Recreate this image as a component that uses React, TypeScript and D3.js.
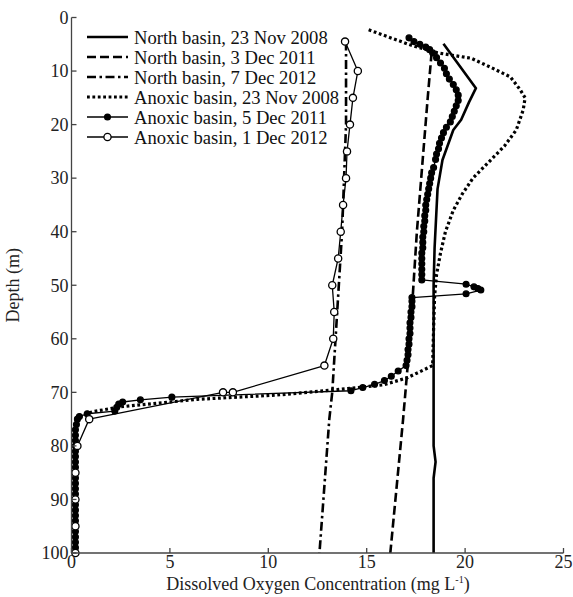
import * as d3 from "d3";

// [depth (m), dissolved oxygen (mg/L)]
const northNov2008: [number, number][] = [
  [4.9, 18.9], [13.2, 20.55], [15.8, 20.2], [19.1, 19.8], [21, 19.4], [26.6, 18.85],
  [32, 18.6], [43, 18.45], [50, 18.4], [80, 18.4], [83, 18.5], [86, 18.4], [100, 18.4],
];
const northDec2011: [number, number][] = [
  [6.5, 18.3], [15, 18.1], [40, 17.55], [60, 17.2], [75, 16.85], [100, 16.2],
];
const northDec2012: [number, number][] = [
  [4.5, 13.95], [20, 13.95], [40, 13.75], [55, 13.5], [70, 13.25], [75, 13.1], [100, 12.6],
];
const anoxicNov2008: [number, number][] = [
  [2.3, 15.1], [5.1, 17.2], [6.6, 18.6], [7.6, 20.3], [9.3, 21.3], [11.1, 22.3], [13.5, 22.8],
  [15, 23.05], [17.3, 22.95], [21, 22.6], [24, 22.0], [27, 21.2], [30, 20.4], [33, 19.85],
  [36, 19.4], [40, 19.0], [44, 18.75], [48, 18.55], [52, 18.45], [58, 18.4], [65, 18.35],
  [67.3, 17.05], [68.6, 15.85], [69.5, 13.5], [70.5, 10.45], [71.3, 6.4], [72.7, 2.5],
  [73.6, 1.1], [74.2, 0.6], [75, 0.3], [80, 0.2], [100, 0.2],
];
const anoxicDec2011: [number, number][] = [
  [3.8, 17.15], [4.5, 17.4], [5, 17.7], [5.5, 18.0], [6, 18.2], [6.6, 18.35], [7.5, 18.55],
  [8.5, 18.75], [9.5, 18.95], [10.5, 19.05], [11.5, 19.2], [12.5, 19.4], [13.5, 19.55],
  [14.5, 19.65], [15.5, 19.65], [16.5, 19.55], [17.5, 19.45], [18.5, 19.35], [19.5, 19.25],
  [20.5, 19.05], [21.5, 18.9], [22.5, 18.8], [23.5, 18.7], [24.5, 18.65], [25.5, 18.55],
  [26.5, 18.5], [28, 18.4], [29, 18.3], [30, 18.25], [31, 18.2], [32, 18.15], [33, 18.1],
  [34, 18.05], [35, 18.0], [36, 18.0], [37, 17.95], [38, 17.95], [39, 17.9], [40, 17.9],
  [41, 17.85], [42, 17.85], [43, 17.85], [44, 17.8], [45, 17.8], [46, 17.8], [47, 17.8],
  [48, 17.8], [49, 17.8], [49.8, 20.05], [50.3, 20.45], [50.6, 20.65], [50.9, 20.8],
  [51.6, 20.05], [52.3, 17.3], [53, 17.3], [54, 17.3], [55, 17.25], [56, 17.25], [57, 17.2],
  [58, 17.2], [59, 17.2], [60, 17.15], [61, 17.15], [62, 17.1], [63, 17.1], [64, 17.05],
  [65, 17.0], [66, 16.6], [67, 16.25], [67.8, 15.9], [68.5, 15.4], [69.1, 14.8], [69.7, 14.2],
  [70.9, 5.1], [71.4, 3.5], [71.8, 2.6], [72.2, 2.4], [72.8, 2.3], [73.5, 2.2], [74, 0.8],
  [74.5, 0.4], [75, 0.3], [76, 0.25], [77, 0.2], [78, 0.2], [79, 0.2], [80, 0.2], [81, 0.2],
  [82, 0.2], [83, 0.2], [84, 0.2], [85, 0.2], [86, 0.2], [87, 0.2], [88, 0.2], [89, 0.2],
  [90, 0.2], [91, 0.2], [92, 0.2], [93, 0.2], [94, 0.2], [95, 0.2], [96, 0.2], [97, 0.2],
  [98, 0.2], [99, 0.2], [100, 0.2],
];
const anoxicDec2012: [number, number][] = [
  [4.5, 13.9], [10, 14.55], [15, 14.3], [20, 14.15], [25, 14.0], [30, 13.95], [35, 13.8],
  [40, 13.68], [45, 13.55], [50, 13.25], [55, 13.35], [60, 13.3], [65, 12.85], [70, 8.2],
  [70, 7.7], [75, 0.9], [80, 0.3], [85, 0.2], [90, 0.2], [95, 0.2], [100, 0.2],
];

const legendLabels = [
  "North basin, 23 Nov 2008",
  "North basin, 3 Dec 2011",
  "North basin, 7 Dec 2012",
  "Anoxic basin, 23 Nov 2008",
  "Anoxic basin, 5 Dec 2011",
  "Anoxic basin, 1 Dec 2012",
];
const xTicks = [0, 5, 10, 15, 20, 25];
const yTicks = [0, 10, 20, 30, 40, 50, 60, 70, 80, 90, 100];

const W = 573, H = 597;
const m = { top: 17.5, left: 71.5, right: 9.5, bottom: 44 };
const font = "'Liberation Serif', 'Times New Roman', serif";

export default function App() {
  const x = d3.scaleLinear().domain([0, 25]).range([m.left, W - m.right]);
  const y = d3.scaleLinear().domain([0, 100]).range([m.top, H - m.bottom]);
  const line = d3.line<[number, number]>().x(d => x(d[1])).y(d => y(d[0]));

  const styles = [
    { data: northNov2008, width: 2.6, dash: "", marker: "" },
    { data: northDec2011, width: 2.6, dash: "9,4", marker: "" },
    { data: northDec2012, width: 2.6, dash: "9,3.5,2.5,3.5", marker: "" },
    { data: anoxicNov2008, width: 3.2, dash: "2.8,2.6", marker: "" },
    { data: anoxicDec2011, width: 1.3, dash: "", marker: "filled" },
    { data: anoxicDec2012, width: 1.3, dash: "", marker: "open" },
  ];

  const axisColor = "#444";
  const bottom = H - m.bottom;

  return (
    <svg width={W} height={H} style={{ position: "absolute", left: 0, top: 0, background: "#fff" }}
      fontFamily={font}>
      {styles.map((s, i) => (
        <g key={i}>
          <path d={line(s.data) ?? ""} fill="none" stroke="#000" strokeWidth={s.width}
            strokeDasharray={s.dash || undefined} strokeLinejoin="round" />
          {s.marker && s.data.map((d, j) => (
            <circle key={j} cx={x(d[1])} cy={y(d[0])} r={s.marker === "filled" ? 2.9 : 3.6}
              fill={s.marker === "filled" ? "#000" : "#fff"} stroke="#000" strokeWidth={1.3} />
          ))}
        </g>
      ))}

      {/* axes */}
      <line x1={m.left} x2={m.left} y1={m.top} y2={bottom} stroke={axisColor} strokeWidth={1.3} />
      <line x1={m.left} x2={W - m.right} y1={bottom} y2={bottom} stroke={axisColor} strokeWidth={1.3} />
      {yTicks.map(t => (
        <g key={t}>
          <line x1={m.left} x2={m.left + 5} y1={y(t)} y2={y(t)} stroke={axisColor} strokeWidth={1.3} />
          <text x={m.left - 3} y={y(t)} dy="0.35em" textAnchor="end" fontSize={18} fill="#222">{t}</text>
        </g>
      ))}
      {xTicks.map(t => (
        <g key={t}>
          <line x1={x(t)} x2={x(t)} y1={bottom} y2={bottom - 5} stroke={axisColor} strokeWidth={1.3} />
          <text x={x(t)} y={bottom + 15} textAnchor="middle" fontSize={18} fill="#222">{t}</text>
        </g>
      ))}
      <text x={318} y={590} textAnchor="middle" fontSize={18} fill="#222">
        Dissolved Oxygen Concentration (mg L<tspan dy={-7} fontSize={10}>-1</tspan><tspan dy={7}>)</tspan>
      </text>
      <text transform={`translate(19,${(m.top + bottom) / 2}) rotate(-90)`} textAnchor="middle"
        fontSize={18} fill="#222">Depth (m)</text>

      {/* legend */}
      {legendLabels.map((lab, i) => {
        const ly = 37 + i * 20;
        const s = styles[i];
        return (
          <g key={lab}>
            <line x1={87} x2={128} y1={ly} y2={ly} stroke="#000" strokeWidth={s.width}
              strokeDasharray={s.dash || undefined} />
            {s.marker && (
              <circle cx={107.5} cy={ly} r={s.marker === "filled" ? 2.9 : 3.6}
                fill={s.marker === "filled" ? "#000" : "#fff"} stroke="#000" strokeWidth={1.3} />
            )}
            <text x={134} y={ly} dy="0.35em" fontSize={18.6} fill="#111">{lab}</text>
          </g>
        );
      })}
    </svg>
  );
}
